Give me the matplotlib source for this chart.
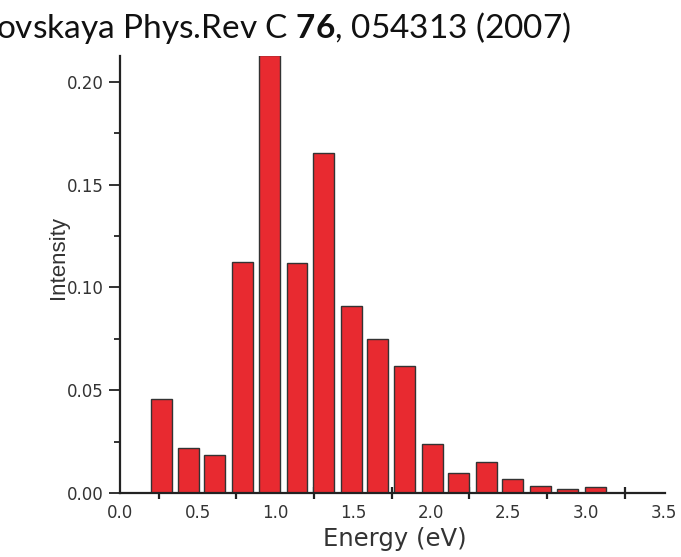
import matplotlib
matplotlib.use('Agg')
import matplotlib.pyplot as plt
import numpy as np

# histogram bins (bin centre in eV) and intensities
energy = [0.27, 0.44, 0.61, 0.79, 0.96, 1.14, 1.31, 1.49, 1.66,
          1.83, 2.01, 2.18, 2.36, 2.53, 2.71, 2.88, 3.06]
intensity = [0.0456, 0.0217, 0.0183, 0.1125, 0.2130, 0.1117, 0.1652, 0.0908, 0.0749,
             0.0616, 0.0238, 0.0096, 0.0151, 0.0070, 0.0034, 0.0021, 0.0029]

xtick_vals = [0.0, 0.5, 1.0, 1.5, 2.0, 2.5, 3.0, 3.5]
xtick_labels = ['0.0', '0.5', '1.0', '1.5', '2.0', '2.5', '3.0', '3.5']
ytick_vals = [0.00, 0.05, 0.10, 0.15, 0.20]
ytick_labels = ['0.00', '0.05', '0.10', '0.15', '0.20']

plt.rcParams['font.family'] = ['DejaVu Sans']
plt.rcParams['mathtext.fontset'] = 'custom'
plt.rcParams['mathtext.rm'] = 'Lato'
plt.rcParams['mathtext.bf'] = 'Lato:bold'

fig = plt.figure(figsize=(6.81, 5.57), dpi=100)
ax = fig.add_axes([0.1762, 0.1149, 0.8003, 0.7846])

ax.bar(energy, intensity, width=0.135, color='#e82a30', edgecolor='#333333', linewidth=1.0, zorder=2)

ax.set_xlim(0, 3.51)
ax.set_ylim(0, 0.2126)

for side in ['top', 'right']:
    ax.spines[side].set_visible(False)
for side in ['left', 'bottom']:
    ax.spines[side].set_linewidth(1.6)
    ax.spines[side].set_color('#222222')

ax.set_xticks(xtick_vals)
ax.set_xticklabels(xtick_labels)
ax.set_xticks(np.arange(0.25, 3.3, 0.5), minor=True)
ax.tick_params(axis='x', which='major', length=0, pad=8, labelsize=12, labelcolor='#333333')
ax.tick_params(axis='x', which='minor', direction='inout', length=8, width=1.6, color='#222222')

ax.set_yticks(ytick_vals)
ax.set_yticklabels(ytick_labels)
ax.set_yticks(np.arange(0.025, 0.2, 0.05), minor=True)
ax.tick_params(axis='y', which='major', direction='out', length=8, width=1.3, pad=4,
               labelsize=12, labelcolor='#333333', color='#222222')
ax.tick_params(axis='y', which='minor', direction='out', length=4, width=1.3, color='#222222')

ax.set_xlabel('Energy (eV)', fontsize=17.5, color='#333333')
ax.xaxis.set_label_coords(0.505, -0.077)
ax.set_ylabel('Intensity', fontsize=16, color='#333333', family='Liberation Sans')
ax.yaxis.set_label_coords(-0.093, 0.54)

fig.text(-0.006, 0.932, r'ovskaya Phys.Rev C $\mathbf{76}$, 054313 (2007)',
         fontsize=24, family='Lato', ha='left', va='baseline', color='#111111')

fig.savefig('out.png', dpi=100)
